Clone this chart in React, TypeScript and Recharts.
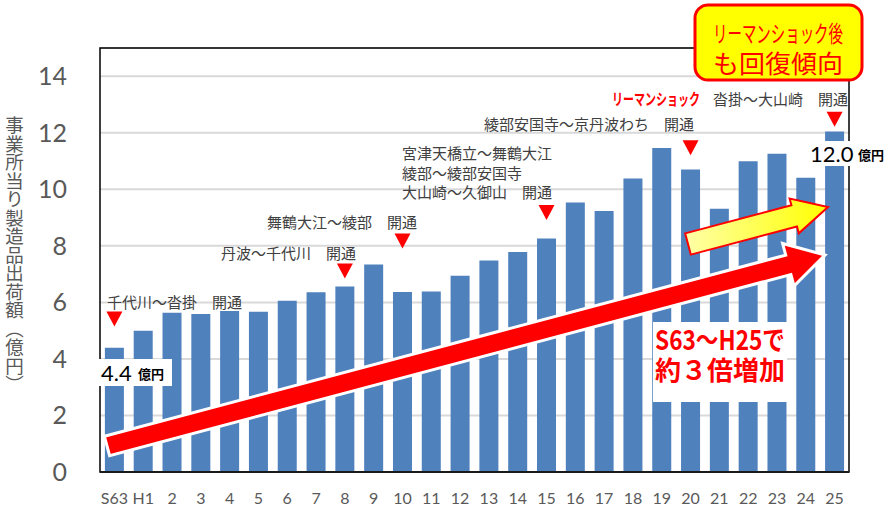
import { BarChart, Bar, XAxis, YAxis, CartesianGrid, ReferenceArea, ReferenceDot } from 'recharts';

const years = ['S63', 'H1', '2', '3', '4', '5', '6', '7', '8', '9', '10', '11', '12', '13', '14', '15', '16', '17', '18', '19', '20', '21', '22', '23', '24', '25'];
const shipments = [4.4, 5.0, 5.63, 5.59, 5.7, 5.67, 6.06, 6.36, 6.56, 7.34, 6.37, 6.39, 6.94, 7.48, 7.78, 8.26, 9.53, 9.23, 10.38, 11.46, 10.7, 9.31, 10.99, 11.26, 10.41, 12.05];
const yTicks = [0, 2, 4, 6, 8, 10, 12, 14];

// red markers over the opening years
const markerYears = ['S63', '8', '10', '15', '20', '25'];
const markerLevels = [5.43, 7.13, 8.19, 9.2, 11.49, 12.5];

const data = years.map((y, i) => ({ year: y, value: shipments[i] }));

const JP = '"Noto Sans CJK JP", "Noto Sans", sans-serif';
const NUM = 'Lato, "Noto Sans", sans-serif';
const GRAY = '#595959';
const TEXT = '#404040';

function Marker(props: any) {
  const { cx, cy } = props;
  return <polygon points={`${cx - 8},${cy - 7} ${cx + 8},${cy - 7} ${cx},${cy + 8}`} fill="#ff0000" />;
}

function Overlay() {
  const note = { fontFamily: JP, fontSize: 15, fill: TEXT, dominantBaseline: 'central' as const };
  return (
    <svg width={892} height={509} style={{ position: 'absolute', left: 0, top: 0, pointerEvents: 'none' }}>
      <defs>
        <linearGradient id="yel" x1="0" y1="0" x2="1" y2="0">
          <stop offset="0%" stopColor="#ffffa8" />
          <stop offset="100%" stopColor="#ffff00" />
        </linearGradient>
      </defs>

      {/* annotations */}
      <text x={107} y={301} {...note}>千代川～沓掛　開通</text>
      <text x={356} y={252} textAnchor="end" {...note}>丹波～千代川　開通</text>
      <text x={267} y={221} {...note}>舞鶴大江～綾部　開通</text>
      <text x={402} y={152} {...note}>宮津天橋立～舞鶴大江</text>
      <text x={402} y={172} {...note}>綾部～綾部安国寺</text>
      <text x={402} y={191} {...note}>大山崎～久御山　開通</text>
      <text x={484} y={123} {...note}>綾部安国寺～京丹波わち　開通</text>
      <text x={612} y={98} {...note} fill="#ff0000" fontWeight="bold" fontSize={16} textLength={88} lengthAdjust="spacingAndGlyphs">リーマンショック</text>
      <text x={713} y={98} {...note}>沓掛～大山崎　開通</text>

      {/* red trend arrow */}
      <polygon
        points="104.4,436.3 785.7,255.1 782.6,243.5 825,255 794,286 790.9,274.5 109.6,455.7"
        fill="#ff0000" stroke="#ffffff" strokeWidth={3} strokeLinejoin="miter"
      />
      {/* yellow arrow */}
      <polygon
        points="685.2,233.4 791.4,205.3 789.6,198.5 828,207 798.8,233.3 797,226.5 690.8,254.6"
        fill="url(#yel)" stroke="#ff0000" strokeWidth={2}
      />

      {/* value labels */}
      <rect x={99} y={359} width={73} height={27} fill="#ffffff" />
      <text x={101} y={372} fontFamily={NUM} fontSize={22} fill="#000" dominantBaseline="central">4.4</text>
      <text x={138} y={373} fontFamily={JP} fontSize={13} fontWeight="bold" fill="#000" dominantBaseline="central">億円</text>
      <rect x={808} y={141} width={45} height={25} fill="#ffffff" />
      <text x={810} y={153} fontFamily={NUM} fontSize={22} fill="#000" dominantBaseline="central">12.0</text>
      <text x={858} y={154} fontFamily={JP} fontSize={13} fontWeight="bold" fill="#000" dominantBaseline="central">億円</text>

      {/* growth note */}
      <rect x={653} y={322} width={134} height={80} fill="#ffffff" />
      <text x={655} y={338} fontFamily={JP} fontSize={27} fontWeight="bold" fill="#ff0000" dominantBaseline="central" textLength={130} lengthAdjust="spacingAndGlyphs">S63～H25で</text>
      <text x={655} y={368} fontFamily={JP} fontSize={26} fontWeight="bold" fill="#ff0000" dominantBaseline="central" textLength={130} lengthAdjust="spacingAndGlyphs">約３倍増加</text>

      {/* callout */}
      <rect x={695} y={5} width={167} height={75} rx={13} fill="#ffff00" stroke="#ff0000" strokeWidth={3} />
      <text x={713} y={32} fontFamily={JP} fontSize={23} fill="#ff0000" dominantBaseline="central" textLength={130} lengthAdjust="spacingAndGlyphs">リーマンショック後</text>
      <text x={713} y={62} fontFamily={JP} fontSize={25} fill="#ff0000" dominantBaseline="central" textLength={130} lengthAdjust="spacingAndGlyphs">も回復傾向</text>
    </svg>
  );
}

export default function App() {
  return (
    <div style={{ position: 'absolute', left: 0, top: 0, width: 892, height: 509, background: '#fff' }}>
      <BarChart width={892} height={509} data={data} margin={{ top: 48, right: 43, bottom: 7, left: 0 }} barCategoryGap="17%">
        <CartesianGrid vertical={false} stroke="#d9d9d9" strokeWidth={2} />
        <XAxis
          dataKey="year"
          height={30}
          tickLine={false}
          tickSize={0}
          tickMargin={21}
          axisLine={{ stroke: '#1a1a1a', strokeWidth: 2 }}
          interval={0}
          tick={{ fontFamily: NUM, fontSize: 16, fill: GRAY }}
        />
        <YAxis
          type="number"
          domain={[0, 15]}
          ticks={yTicks}
          width={100}
          tickLine={false}
          tickSize={0}
          tickMargin={33}
          axisLine={false}
          tick={{ fontFamily: NUM, fontSize: 25, fill: GRAY }}
        />
        <ReferenceArea y1={0} y2={15} fill="none" stroke="#000" strokeWidth={1.5} ifOverflow="visible" />
        <Bar dataKey="value" fill="#4f81bd" isAnimationActive={false} />
        {markerYears.map((y, i) => (
          <ReferenceDot key={y} x={y} y={markerLevels[i]} shape={Marker} ifOverflow="visible" />
        ))}
      </BarChart>
      <div
        style={{
          position: 'absolute',
          left: 5,
          top: 116,
          writingMode: 'vertical-rl',
          fontFamily: JP,
          fontSize: 18.5,
          color: GRAY,
          lineHeight: 1,
          whiteSpace: 'nowrap',
        }}
      >
        事業所当り製造品出荷額（億円）
      </div>
      <Overlay />
    </div>
  );
}
